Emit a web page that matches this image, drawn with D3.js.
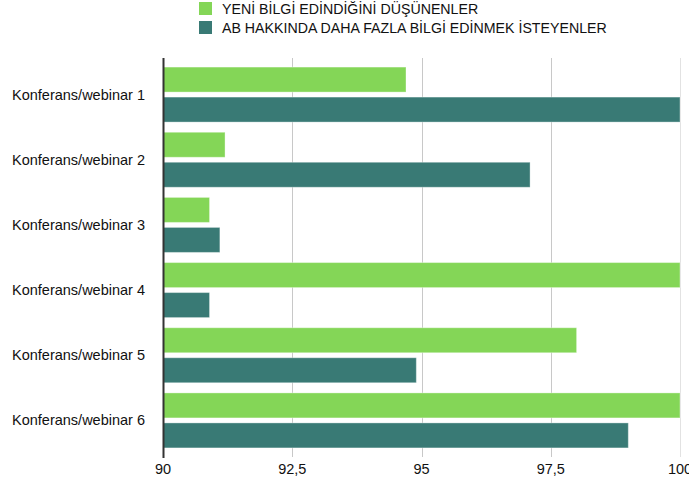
<!DOCTYPE html>
<html><head><meta charset="utf-8">
<script src="https://cdn.jsdelivr.net/npm/d3@7"></script>
<style>body{margin:0;background:#fff;} text{font-family:"Liberation Sans",Arial,Helvetica,sans-serif;}</style>
</head><body>
<svg id="chart" width="689" height="486"></svg>
<script>
const categories = ["Konferans/webinar 1","Konferans/webinar 2","Konferans/webinar 3","Konferans/webinar 4","Konferans/webinar 5","Konferans/webinar 6"];
const seriesNames = ["YENİ BİLGİ EDİNDİĞİNİ DÜŞÜNENLER","AB HAKKINDA DAHA FAZLA BİLGİ EDİNMEK İSTEYENLER"];
const seriesColors = ["#84d657","#397a75"];
const newInfo = [94.7, 91.2, 90.9, 100, 98.0, 100];
const moreInfo = [100, 97.1, 91.1, 90.9, 94.9, 99.0];
const tickValues = [90, 92.5, 95, 97.5, 100];
const tickLabels = ["90","92,5","95","97,5","100"];

(function(){
const series = [newInfo, moreInfo];
const svg = d3.select("#chart");
const mLeft = 163, mRight = 680, mTop = 62, mBottom = 453;
const x = d3.scaleLinear().domain([90,100]).range([mLeft,mRight]);
const y = d3.scaleBand().domain(categories).range([mTop,mBottom]).paddingInner(0.156).paddingOuter(0.078);
const ys = d3.scaleBand().domain([0,1]).range([0,y.bandwidth()]).paddingInner(0.1667);

// grid
svg.append("g").selectAll("line").data(tickValues.slice(1)).join("line")
  .attr("x1",d=>Math.round(x(d))+0.5).attr("x2",d=>Math.round(x(d))+0.5)
  .attr("y1",58).attr("y2",457)
  .attr("stroke",d=>d===100?"#e2e2e2":"#c8c8c8").attr("stroke-width",1);

// bars
const g = svg.append("g");
categories.forEach((c,i)=>{
  series.forEach((s,j)=>{
    g.append("rect")
      .attr("x",x(90)).attr("y",y(c)+ys(j))
      .attr("width",x(s[i])-x(90)).attr("height",ys.bandwidth())
      .attr("fill",seriesColors[j])
      .attr("stroke","rgba(255,255,255,0.35)").attr("stroke-width",1);
  });
});

// axis line
svg.append("line").attr("x1",mLeft+0.5).attr("x2",mLeft+0.5).attr("y1",58).attr("y2",458)
  .attr("stroke","#333").attr("stroke-width",2);

// x tick labels
svg.append("g").selectAll("text").data(tickValues).join("text")
  .attr("x",d=>x(d)).attr("y",474).attr("text-anchor","middle")
  .attr("font-size","14.5px").attr("fill","#111")
  .text((d,i)=>tickLabels[i]);

// category labels
svg.append("g").selectAll("text").data(categories).join("text")
  .attr("x",145).attr("y",d=>y(d)+y.bandwidth()/2).attr("dy","0.35em")
  .attr("text-anchor","end").attr("font-size","14.5px").attr("fill","#111")
  .text(d=>d);

// legend
const lg = svg.append("g");
seriesNames.forEach((n,j)=>{
  lg.append("rect").attr("x",199).attr("y",2+j*19).attr("width",13).attr("height",13).attr("fill",seriesColors[j]);
  lg.append("text").attr("x",222).attr("y",9.5+j*19).attr("dy","0.35em")
    .attr("font-size","14.2px").attr("fill","#111").text(n);
});
})();
</script>
</body></html>
